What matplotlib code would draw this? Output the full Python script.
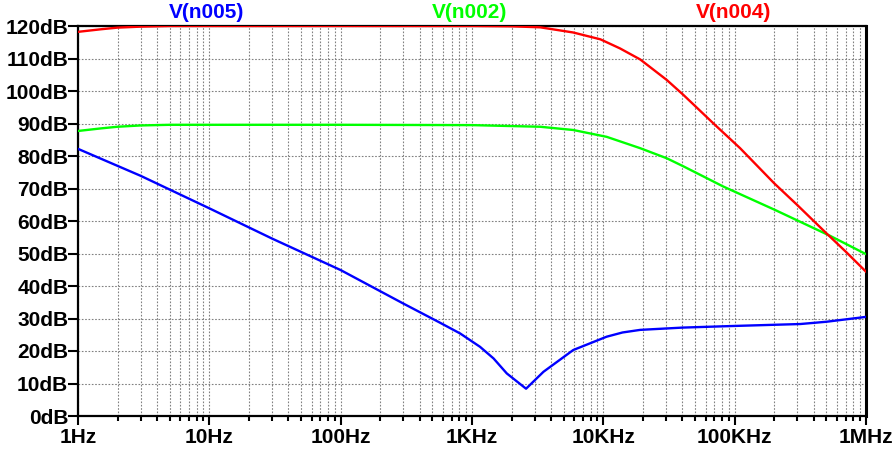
import numpy as np
import matplotlib
matplotlib.use("Agg")
import matplotlib.pyplot as plt
from matplotlib.ticker import LogLocator, FixedLocator, NullFormatter

# values (frequency in Hz, magnitude in dB)
freq_n004 = [1, 1.5, 2, 3, 5, 10, 100, 1e3, 2e3, 3.3e3, 5.9e3, 9.5e3, 13.4e3,
             19.1e3, 30.4e3, 40.7e3, 69e3, 110e3, 200e3, 300e3, 500e3, 700e3, 1e6]
db_n004 = [118.2, 119.0, 119.5, 119.8, 120, 120, 120, 120, 119.9, 119.6, 118.0,
           115.9, 113.1, 109.7, 103.4, 98.8, 90.0, 82.4, 71.6, 64.9, 56.2, 50.6, 44.4]

freq_n002 = [1, 1.5, 2, 3, 5, 10, 100, 1e3, 3.3e3, 5.9e3, 10.6e3, 19.1e3, 30.4e3,
             40.8e3, 82e3, 203e3, 535e3, 1e6]
db_n002 = [87.7, 88.5, 89.0, 89.4, 89.6, 89.6, 89.6, 89.5, 89.0, 88.0, 85.9, 82.4,
           79.3, 76.8, 70.6, 63.4, 55.4, 49.8]

freq_n005 = [1, 3, 10, 30, 100, 300, 571, 812, 1.15e3, 1.46e3, 1.84e3, 2.58e3,
             3.5e3, 5.9e3, 10.6e3, 14e3, 19.1e3, 40e3, 98e3, 316e3, 500e3, 1e6]
db_n005 = [82.2, 73.9, 63.9, 54.6, 44.9, 34.6, 28.7, 25.4, 21.3, 17.7, 13.1, 8.4,
           13.6, 20.3, 24.4, 25.7, 26.5, 27.2, 27.7, 28.3, 29.0, 30.5]

x_ticks = [1, 10, 100, 1e3, 1e4, 1e5, 1e6]
x_labels = ["1Hz", "10Hz", "100Hz", "1KHz", "10KHz", "100KHz", "1MHz"]
y_ticks = list(range(0, 121, 10))
y_labels = [f"{v}dB" for v in y_ticks]

traces = [("V(n005)", freq_n005, db_n005, "#0000ff"),
          ("V(n002)", freq_n002, db_n002, "#00ff00"),
          ("V(n004)", freq_n004, db_n004, "#ff0000")]

plt.rcParams['font.family'] = ['Liberation Sans', 'DejaVu Sans']

fig = plt.figure(figsize=(8.94, 4.53), dpi=100)
ax = fig.add_axes([78 / 894, 1 - 416 / 453, (866 - 78) / 894, (416 - 26) / 453])

grid_style = dict(color="#808080", linestyle=(0, (1.5, 1.5)), linewidth=0.8)

for name, f, db, color in traces:
    ax.semilogx(f, db, color=color, linewidth=1.7, zorder=3,
                solid_joinstyle="round")

ax.set_xlim(1, 1e6)
ax.set_ylim(0, 120)

ax.xaxis.set_major_locator(FixedLocator(x_ticks))
ax.set_xticklabels(x_labels)
ax.xaxis.set_minor_locator(LogLocator(base=10, subs=np.arange(2, 10), numticks=20))
ax.xaxis.set_minor_formatter(NullFormatter())
ax.set_yticks(y_ticks)
ax.set_yticklabels(y_labels)

ax.grid(True, which="major", axis="both", **grid_style)
ax.grid(True, which="minor", axis="x", **grid_style)
ax.set_axisbelow(True)

ax.tick_params(axis="x", which="major", direction="out", length=6.5, width=1.5,
               labelsize=15, pad=2)
ax.tick_params(axis="x", which="minor", direction="out", length=3.5, width=1.5)
ax.tick_params(axis="y", which="major", direction="out", length=7, width=1.5,
               labelsize=15, pad=0)
for lab in ax.get_xticklabels() + ax.get_yticklabels():
    lab.set_fontweight("bold")

for side in ["left", "bottom", "top"]:
    ax.spines[side].set_linewidth(1.6)
ax.spines["right"].set_linewidth(2.2)

# trace names above the plot
for (name, f, db, color), xpix in zip(traces, [207, 470, 734]):
    fig.text(xpix / 894, 1 - 13 / 453, name, color=color, fontsize=15,
             fontweight="bold", ha="center", va="center")

fig.savefig("out.png", dpi=100)
